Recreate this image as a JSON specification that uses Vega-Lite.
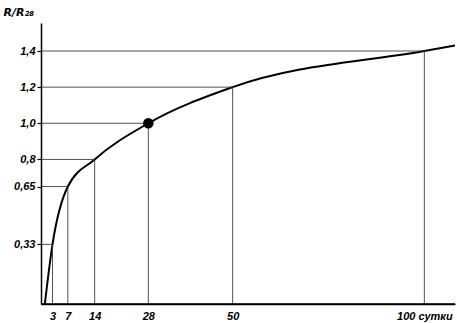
{
  "$schema": "https://vega.github.io/schema/vega-lite/v6.json",
  "width": 414,
  "height": 281,
  "autosize": "none",
  "padding": {"left": 41, "top": 23, "right": 2, "bottom": 19},
  "background": "white",
  "config": {
    "view": {"stroke": null},
    "axis": {
      "grid": false,
      "domain": true,
      "domainColor": "black",
      "domainWidth": 1.5,
      "labelFont": "Liberation Sans",
      "labelFontStyle": "italic",
      "labelFontWeight": "bold",
      "labelFontSize": 11,
      "labelColor": "black",
      "tickColor": "black",
      "tickWidth": 1.2
    }
  },
  "datasets": {
    "curve": [
      {"day": 1, "r": 0},
      {"day": 3, "r": 0.33},
      {"day": 7, "r": 0.65},
      {"day": 14, "r": 0.8},
      {"day": 28, "r": 1.0},
      {"day": 50, "r": 1.2},
      {"day": 100, "r": 1.4},
      {"day": 108, "r": 1.43}
    ],
    "marks": [
      {"day": 3, "r": 0.33},
      {"day": 7, "r": 0.65},
      {"day": 14, "r": 0.8},
      {"day": 28, "r": 1.0},
      {"day": 50, "r": 1.2},
      {"day": 100, "r": 1.4}
    ],
    "dot": [{"day": 28, "r": 1.0}]
  },
  "layer": [
    {
      "data": {"name": "curve"},
      "mark": {"type": "line", "color": "black", "strokeWidth": 2, "interpolate": "monotone"},
      "encoding": {
        "x": {
          "field": "day",
          "type": "quantitative",
          "scale": {"domain": [0, 108], "nice": false},
          "axis": {
            "values": [3, 7, 14, 28, 50, 100],
            "labelExpr": "datum.value == 100 ? '100 сутки' : datum.label",
            "tickSize": 0,
            "labelPadding": 6,
            "zindex": 1,
            "title": null
          }
        },
        "y": {
          "field": "r",
          "type": "quantitative",
          "scale": {"domain": [0, 1.555], "nice": false},
          "axis": {
            "values": [0.33, 0.65, 0.8, 1, 1.2, 1.4],
            "format": ".2~f",
            "labelExpr": "datum.value == 1 ? '1,0' : replace(datum.label, '.', ',')",
            "tickSize": 4,
            "labelPadding": 2,
            "zindex": 1,
            "title": "R/R₂₈",
            "titleAngle": 0,
            "titleAlign": "left",
            "titleBaseline": "alphabetic",
            "titleX": -38,
            "titleY": -8,
            "titleFont": "DejaVu Sans",
            "titleFontStyle": "italic",
            "titleFontWeight": "bold",
            "titleFontSize": 11,
            "titleColor": "black"
          }
        }
      }
    },
    {
      "data": {"name": "marks"},
      "mark": {"type": "rule", "color": "#333", "strokeWidth": 1, "opacity": 0.85},
      "encoding": {
        "x": {"field": "day", "type": "quantitative"},
        "x2": {"datum": 0},
        "y": {"field": "r", "type": "quantitative"}
      }
    },
    {
      "data": {"name": "marks"},
      "mark": {"type": "rule", "color": "#333", "strokeWidth": 1, "opacity": 0.85},
      "encoding": {
        "x": {"field": "day", "type": "quantitative"},
        "y": {"field": "r", "type": "quantitative"},
        "y2": {"datum": 0}
      }
    },
    {
      "data": {"name": "dot"},
      "mark": {"type": "point", "filled": true, "color": "black", "size": 110, "opacity": 1},
      "encoding": {
        "x": {"field": "day", "type": "quantitative"},
        "y": {"field": "r", "type": "quantitative"}
      }
    },
    {
      "data": {"name": "dot"},
      "mark": {"type": "rule", "color": "black", "strokeWidth": 1.5},
      "encoding": {
        "x": {"datum": 0, "type": "quantitative"},
        "x2": {"datum": 108},
        "y": {"datum": 0, "type": "quantitative"}
      }
    }
  ]
}
